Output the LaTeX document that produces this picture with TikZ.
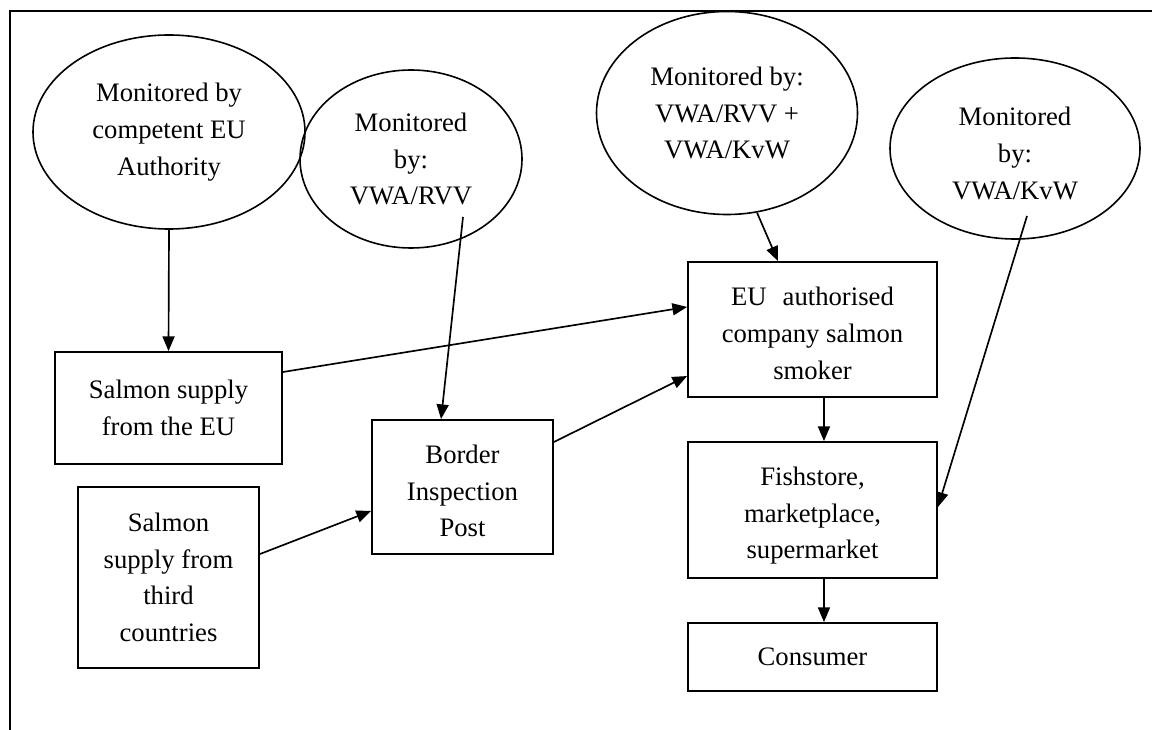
\documentclass[tikz,border=0pt]{standalone}
\usepackage{fontspec}
\setmainfont{Liberation Serif}
\usetikzlibrary{arrows.meta,shapes.geometric}
\newcommand{\dn}[1]{\rule{0pt}{#1}}
\begin{document}
\begin{tikzpicture}[x=0.75pt,y=-0.75pt,
  every node/.style={font=\fontsize{20}{27.5}\selectfont, align=center, inner sep=0pt},
  box/.style={draw, rectangle, line width=1.4pt},
  oval/.style={draw, ellipse, line width=1.2pt},
  arr/.style={-{Triangle[length=11pt,width=9pt]}, line width=1.25pt}]
\useasboundingbox (0,0) rectangle (1152,730);
\draw[line width=1.5pt] (1152,11) -- (10,11) -- (10,730);

% ellipses
\node[oval, minimum width=204pt, minimum height=145.5pt] (e1) at (169,132) {Monitored by\\competent EU\\Authority};
\node[oval, minimum width=166.5pt, minimum height=133.5pt] (e2) at (411,159) {Monitored\\by:\\VWA/RVV};
\node[oval, minimum width=195.75pt, minimum height=152.25pt] (e3) at (727,113) {Monitored by:\\VWA/RVV +\\VWA/KvW};
\node[oval, minimum width=187.5pt, minimum height=135.75pt] (e4) at (1015,148.5) {\dn{21.2pt}Monitored\\by:\\VWA/KvW};

% boxes
\node[box, minimum width=170.25pt, minimum height=84pt] (b1) at (168.5,408) {Salmon supply\\from the EU};
\node[box, minimum width=135.75pt, minimum height=135.75pt] (b2) at (168.5,577.5) {Salmon\\supply from\\third\\countries};
\node[box, minimum width=135.75pt, minimum height=100.5pt] (b3) at (462.5,487) {\dn{19.7pt}Border\\Inspection\\Post};
\node[box, minimum width=186.75pt, minimum height=101.25pt] (b4) at (812.5,329.5) {\dn{19.7pt}EU\hspace{0.6em}authorised\\company salmon\\smoker};
\node[box, minimum width=186.75pt, minimum height=102pt] (b5) at (812.5,510) {\dn{22.7pt}Fishstore,\\marketplace,\\supermarket};
\node[box, minimum width=186.75pt, minimum height=51pt] (b6) at (812.5,657) {Consumer};

% connectors
\draw[arr] (e1.south) -- (b1.north);
\draw[arr] ([xshift=39pt,yshift=-43.5pt]e2.center) -- ([xshift=-16.1pt]b3.north);
\draw[arr] ([xshift=22.5pt,yshift=2pt]e3.south) -- ([xshift=-25.9pt]b4.north);
\draw[arr] ([xshift=9pt,yshift=-50.6pt]e4.center) -- ([yshift=2.25pt]b5.east);
\draw[arr] ([yshift=27pt]b1.east) -- ([yshift=16.9pt]b4.west);
\draw[arr] ([yshift=17.6pt]b2.east) -- ([yshift=-18pt]b3.west);
\draw[arr] ([yshift=33.75pt]b3.east) -- ([yshift=-34.9pt]b4.west);
\draw[arr] ([xshift=8.6pt]b4.south) -- ([xshift=8.6pt]b5.north);
\draw[arr] ([xshift=8.6pt]b5.south) -- ([xshift=8.6pt]b6.north);
\end{tikzpicture}
\end{document}
